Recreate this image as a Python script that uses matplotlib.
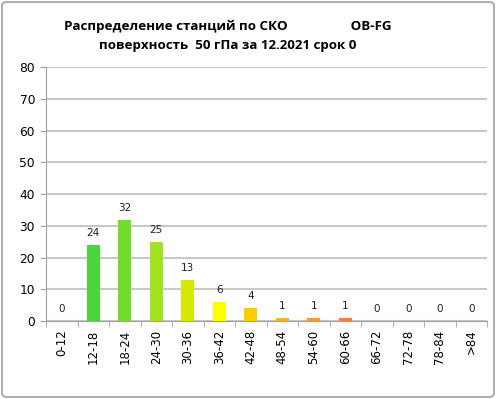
import numpy as np
import matplotlib.pyplot as plt
from matplotlib.patches import FancyBboxPatch

categories = ['0-12', '12-18', '18-24', '24-30', '30-36', '36-42', '42-48',
              '48-54', '54-60', '60-66', '66-72', '72-78', '78-84', '>84']
counts = [0, 24, 32, 25, 13, 6, 4, 1, 1, 1, 0, 0, 0, 0]
colors = ['#3CCF3C', '#4CD43C', '#72DC2C', '#A2E21E', '#D4EA00', '#FFFF00',
          '#FFCC00', '#FFB21E', '#FF962E', '#FF7A30', '#FF6030', '#FF5030',
          '#FF4030', '#FF3030']

fig = plt.figure(figsize=(4.96, 3.99), dpi=100)
fig.patches.append(FancyBboxPatch((0.004, 0.005), 0.992, 0.99,
                                  boxstyle="round,pad=0,rounding_size=0.01",
                                  transform=fig.transFigure, fill=False,
                                  edgecolor='#A0A0A0', linewidth=1.2))
ax = fig.add_axes([0.093, 0.195, 0.889, 0.637])

x = np.arange(len(categories))
bars = ax.bar(x, counts, width=0.42, color=colors, zorder=3)
for xi, v in zip(x, counts):
    ax.text(xi, v + 2.2, str(v), ha='center', va='bottom', fontsize=7.5,
            color='#202020')

ax.set_xlim(-0.5, len(categories) - 0.5)
ax.set_ylim(0, 80)
ax.set_yticks(range(0, 81, 10))
ax.set_xticks(x)
ax.set_xticklabels(categories, rotation=90, fontsize=8.5)
ax.set_xticks(np.arange(-0.5, len(categories), 1), minor=True)
ax.tick_params(axis='x', which='major', length=0, pad=6)
ax.tick_params(axis='x', which='minor', length=4, color='#A0A0A0')
ax.tick_params(axis='y', length=4, color='#A0A0A0', labelsize=8.8, pad=4)
ax.grid(axis='y', color='#C8C8C8', linewidth=1.5, zorder=0)
for s in ['top', 'right']:
    ax.spines[s].set_visible(False)
ax.spines['left'].set_color('#A0A0A0')
ax.spines['bottom'].set_color('#A0A0A0')

fig.text(0.46, 0.935, 'Распределение станций по СКО                  OB-FG',
         ha='center', va='center', fontsize=9.6, fontweight='bold',
         family='Open Sans')
fig.text(0.46, 0.885, 'поверхность  50 гПа за 12.2021 срок 0',
         ha='center', va='center', fontsize=9.6, fontweight='bold',
         family='Open Sans')

fig.savefig('out.png', dpi=100)
